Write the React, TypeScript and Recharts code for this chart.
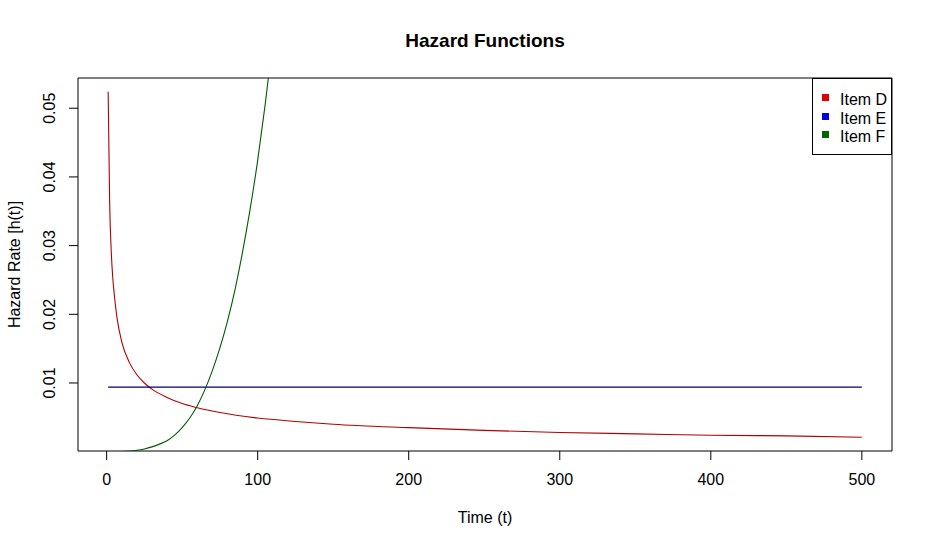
import { LineChart, Line, XAxis, YAxis, ReferenceArea, Legend } from 'recharts'

// hazard curves
const timeD = [1, 2, 3, 4, 5, 7, 10, 15, 20, 25, 30, 40, 50, 60, 75, 100, 125, 150, 200, 250, 300, 350, 400, 450, 500]
const hazardD = [
	0.0524, 0.0362, 0.0294, 0.0255, 0.023, 0.0193, 0.016, 0.013, 0.0112, 0.01, 0.0091, 0.0079, 0.007, 0.0064,
	0.0057, 0.0049, 0.0044, 0.004, 0.0035, 0.0031, 0.0028, 0.0026, 0.0024, 0.0023, 0.0021,
]

const timeE = [1, 500]
const hazardE = [0.0094, 0.0094]

const timeF = [1, 10, 15, 20, 25, 30, 35, 40, 45, 50, 55, 60, 65, 70, 75, 80, 85, 90, 95, 100, 105, 110]
const hazardF = [
	0, 0.00002, 0.00008, 0.0002, 0.0004, 0.0007, 0.0011, 0.0016, 0.0024, 0.0035, 0.0049, 0.0067, 0.009, 0.0118,
	0.0151, 0.019, 0.0236, 0.0291, 0.0353, 0.0424, 0.0506, 0.0598,
]

const xTicks = [0, 100, 200, 300, 400, 500]
const yTicks = [0.01, 0.02, 0.03, 0.04, 0.05]

const seriesNames = ['Item D', 'Item E', 'Item F']
const lineColors = ['#b00000', '#000070', '#005a00']
const legendColors = ['#e00000', '#0000e0', '#006400']

const xDomain = [-18.96, 519.96]
const yDomain = [0.0001, 0.0544]

const font = '"Liberation Sans", Arial, sans-serif'

const toRows = (times: number[], values: number[]) => times.map((t, i) => ({ t, h: values[i] }))

const dataD = toRows(timeD, hazardD)
const dataE = toRows(timeE, hazardE)
const dataF = toRows(timeF, hazardF)
const seriesData = [dataD, dataE, dataF]

function XTick({ x, payload }: any) {
	return (
		<text x={x} y={484.5} textAnchor="middle" fontSize={16} fontFamily={font} fill="#000">
			{payload.value}
		</text>
	)
}

function YTick({ y, payload }: any) {
	return (
		<text
			x={55}
			y={y}
			transform={`rotate(-90, 55, ${y})`}
			textAnchor="middle"
			fontSize={16}
			fontFamily={font}
			fill="#000"
		>
			{payload.value.toFixed(2)}
		</text>
	)
}

function LegendBox() {
	return (
		<div
			style={{
				position: 'relative',
				width: 80,
				height: 77,
				border: '1px solid #000',
				background: '#fff',
				fontFamily: font,
				fontSize: 16,
				boxSizing: 'border-box',
			}}
		>
			{seriesNames.map((name, i) => (
				<div key={name} style={{ position: 'absolute', left: 9, top: 12 + i * 18.5, height: 18, lineHeight: '18px' }}>
					<span
						style={{
							display: 'inline-block',
							width: 7,
							height: 7,
							background: legendColors[i],
							marginRight: 11,
							verticalAlign: 'middle',
							position: 'relative',
							top: -3,
						}}
					/>
					<span style={{ color: '#000' }}>{name}</span>
				</div>
			))}
		</div>
	)
}

export default function App() {
	return (
		<div style={{ position: 'absolute', left: 0, top: 0, background: '#fff' }}>
			<LineChart width={934} height={548} margin={{ top: 78, right: 42, bottom: 0, left: 0 }}>
				<XAxis
					type="number"
					dataKey="t"
					domain={xDomain}
					ticks={xTicks}
					allowDataOverflow
					axisLine={false}
					tickLine={{ stroke: '#000' }}
					tickSize={9}
					height={97}
					tick={<XTick />}
				/>
				<YAxis
					type="number"
					dataKey="h"
					domain={yDomain}
					ticks={yTicks}
					allowDataOverflow
					axisLine={false}
					tickLine={{ stroke: '#000' }}
					tickSize={9}
					width={78}
					tick={<YTick />}
				/>
				<ReferenceArea
					x1={xDomain[0]}
					x2={xDomain[1]}
					y1={yDomain[0]}
					y2={yDomain[1]}
					fill="none"
					stroke="#000"
					strokeWidth={1}
					fillOpacity={0}
				/>
				{seriesData.map((rows, i) => (
					<Line
						key={seriesNames[i]}
						data={rows}
						dataKey="h"
						name={seriesNames[i]}
						type="monotone"
						stroke={lineColors[i]}
						strokeWidth={1.1}
						dot={false}
						isAnimationActive={false}
					/>
				))}
				<Legend
					layout="vertical"
					align="center"
					verticalAlign="middle"
					content={<LegendBox />}
					wrapperStyle={{ position: 'absolute', left: 812, top: 78, width: 80, height: 77 }}
				/>
				<text x={485} y={47} textAnchor="middle" fontSize={19} fontWeight="bold" fontFamily={font} fill="#000">
					Hazard Functions
				</text>
				<text x={485} y={523} textAnchor="middle" fontSize={16} fontFamily={font} fill="#000">
					Time (t)
				</text>
				<text
					x={20}
					y={264.5}
					transform="rotate(-90, 20, 264.5)"
					textAnchor="middle"
					fontSize={16}
					fontFamily={font}
					fill="#000"
				>
					Hazard Rate [h(t)]
				</text>
			</LineChart>
		</div>
	)
}
